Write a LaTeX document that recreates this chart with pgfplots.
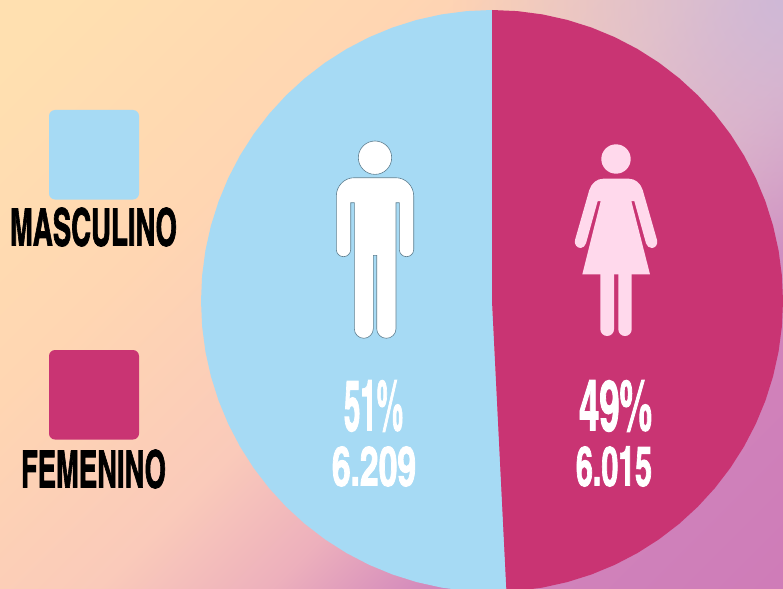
\documentclass[border=0pt]{standalone}
\usepackage{pgfplots}
\usepackage{fontspec}
\usetikzlibrary{fadings}
\pgfplotsset{compat=1.18}
\setmainfont{TeX Gyre Heros Cn}[BoldFont=* Bold,BoldFeatures={FakeBold=1.8}]
\definecolor{blueS}{HTML}{A6DAF4}
\definecolor{pinkS}{HTML}{C93473}
\definecolor{womanC}{HTML}{FFD9EC}
\definecolor{lav}{HTML}{CBB8DA}
\definecolor{manedge}{HTML}{5F7F90}
\definecolor{bgA}{HTML}{FFE0B0}
\definecolor{bgB}{HTML}{FFD6B2}
\definecolor{bgC}{HTML}{FACABA}
\definecolor{bgD}{HTML}{EDB0BC}
\definecolor{bgE}{HTML}{D085BC}
\definecolor{bgF}{HTML}{CF7CB8}
\newcommand{\bx}[3]{\resizebox{#1pt}{#2pt}{\textbf{#3}}}
\pgfdeclarehorizontalshading{bgshade}{100bp}{
  color(0bp)=(bgA);
  color(18bp)=(bgA);
  color(35bp)=(bgB);
  color(50bp)=(bgC);
  color(59bp)=(bgD);
  color(68bp)=(bgE);
  color(85bp)=(bgF);
  color(100bp)=(bgF)}
\tikzfading[name=cornerfade, inner color=transparent!10, outer color=transparent!100]
\begin{document}
\begin{tikzpicture}
\begin{axis}[
  scale only axis, width=783pt, height=588pt,
  xmin=0, xmax=783, ymin=0, ymax=588, y dir=reverse,
  axis line style={draw=none}, ticks=none, clip=true,
]
\shade[shading=bgshade, shading angle=-45] (0,0) rectangle (783,588);
\fill[lav, path fading=cornerfade] (783,0) circle[radius=330pt];
% blue slice (50.79 % = 6.209)
\addplot[fill=blueS, draw=none, forget plot] coordinates {
(492,301)(506.47,591.64)(492,592)(466.64,590.89)(441.47,587.58)(416.68,582.08)(392.47,574.45)(369.02,564.74)(346.5,553.01)(325.09,539.37)(304.95,523.92)(286.23,506.77)(269.08,488.05)(253.63,467.91)(239.99,446.5)(228.26,423.98)(218.55,400.53)(210.92,376.32)(205.42,351.53)(202.11,326.36)(201,301)(202.11,275.64)(205.42,250.47)(210.92,225.68)(218.55,201.47)(228.26,178.02)(239.99,155.5)(253.63,134.09)(269.08,113.95)(286.23,95.23)(304.95,78.08)(325.09,62.63)(346.5,48.99)(369.02,37.26)(392.47,27.55)(416.68,19.92)(441.47,14.42)(466.64,11.11)(492,10)
} -- cycle;
% pink slice (49.21 % = 6.015)
\addplot[fill=pinkS, draw=none, forget plot] coordinates {
(492,301)(492,10)(517.36,11.11)(542.53,14.42)(567.32,19.92)(591.53,27.55)(614.98,37.26)(637.5,48.99)(658.91,62.63)(679.05,78.08)(697.77,95.23)(714.92,113.95)(730.37,134.09)(744.01,155.5)(755.74,178.02)(765.45,201.47)(773.08,225.68)(778.58,250.47)(781.89,275.64)(783,301)(781.89,326.36)(778.58,351.53)(773.08,376.32)(765.45,400.53)(755.74,423.98)(744.01,446.5)(730.37,467.91)(714.92,488.05)(697.77,506.77)(679.05,523.92)(658.91,539.37)(637.5,553.01)(614.98,564.74)(591.53,574.45)(567.32,582.08)(542.53,587.58)(517.36,590.89)(506.47,591.64)
} -- cycle;
% legend swatches
\addplot[fill=blueS, draw=none, rounded corners=6pt, forget plot] coordinates {(49,110)(139,110)(139,199.5)(49,199.5)} -- cycle;
\addplot[fill=pinkS, draw=none, rounded corners=6pt, forget plot] coordinates {(49,350)(139,350)(139,439.5)(49,439.5)} -- cycle;
% man
\filldraw[fill=white, draw=manedge, line width=0.6pt] (375,157.7) circle[radius=16.7pt];
\filldraw[fill=white, draw=manedge, line width=0.6pt]
 (354.3,202.7) -- (350.7,202.7) -- (350.7,249.5)
 .. controls (350.7,253.5) and (347.5,256.7) .. (343.5,256.7)
 .. controls (339.5,256.7) and (336.3,253.5) .. (336.3,249.5)
 -- (336.3,196) .. controls (336.3,186) and (344.3,177.7) .. (354.3,177.7)
 -- (395.7,177.7) .. controls (405.7,177.7) and (413.7,186) .. (413.7,196)
 -- (413.7,249.5) .. controls (413.7,253.5) and (410.5,256.7) .. (406.5,256.7)
 .. controls (402.5,256.7) and (399.3,253.5) .. (399.3,249.5)
 -- (399.3,202.7) -- (396,202.7) -- (396,328.7)
 .. controls (396,334) and (391.7,338.3) .. (386.35,338.3)
 .. controls (381,338.3) and (376.7,334) .. (376.7,328.7)
 -- (376.7,255.3) -- (373.3,255.3) -- (373.3,328.7)
 .. controls (373.3,334) and (369,338.3) .. (363.8,338.3)
 .. controls (358.6,338.3) and (354.3,334) .. (354.3,328.7) -- cycle;
% woman
\fill[womanC] (616,159) circle[radius=14.7pt];
\fill[womanC]
 (603.3,178.7) -- (628.7,178.7) .. controls (635,178.7) and (640.5,183) .. (642.7,190)
 -- (657,240) .. controls (658,244.5) and (655.5,248) .. (651.7,248)
 .. controls (649,248) and (647,246) .. (646,243.3)
 -- (634.3,201) -- (631.3,201) -- (650,274.3) -- (582.3,274.3) -- (600.7,201) -- (597.7,201)
 -- (586,243.3) .. controls (585,246) and (583,248) .. (580.7,248)
 .. controls (577,248) and (574,244.5) .. (575,240)
 -- (589.3,190) .. controls (591.5,183) and (597,178.7) .. (603.3,178.7) -- cycle;
\fill[womanC] (600.3,270) -- (614,270) -- (614,329.2) .. controls (614,333) and (611,336) .. (607.15,336)
 .. controls (603.3,336) and (600.3,333) .. (600.3,329.2) -- cycle;
\fill[womanC] (618.3,270) -- (631.7,270) -- (631.7,329.2) .. controls (631.7,333) and (628.8,336) .. (625,336)
 .. controls (621.2,336) and (618.3,333) .. (618.3,329.2) -- cycle;
% texts
\node[anchor=center, inner sep=0pt, text=black] at (93.5,227) {\bx{167}{38}{MASCULINO}};
\node[anchor=center, inner sep=0pt, text=black] at (93.5,469) {\bx{145}{38}{FEMENINO}};
\node[anchor=center, inner sep=0pt, text=white] at (373.5,406) {\bx{59}{50}{51\%}};
\node[anchor=center, inner sep=0pt, text=white] at (374,466.5) {\bx{84}{39}{6.209}};
\node[anchor=center, inner sep=0pt, text=white] at (615.5,406) {\bx{73}{50}{49\%}};
\node[anchor=center, inner sep=0pt, text=white] at (614,466.5) {\bx{76}{39}{6.015}};
\end{axis}
\end{tikzpicture}
\end{document}
